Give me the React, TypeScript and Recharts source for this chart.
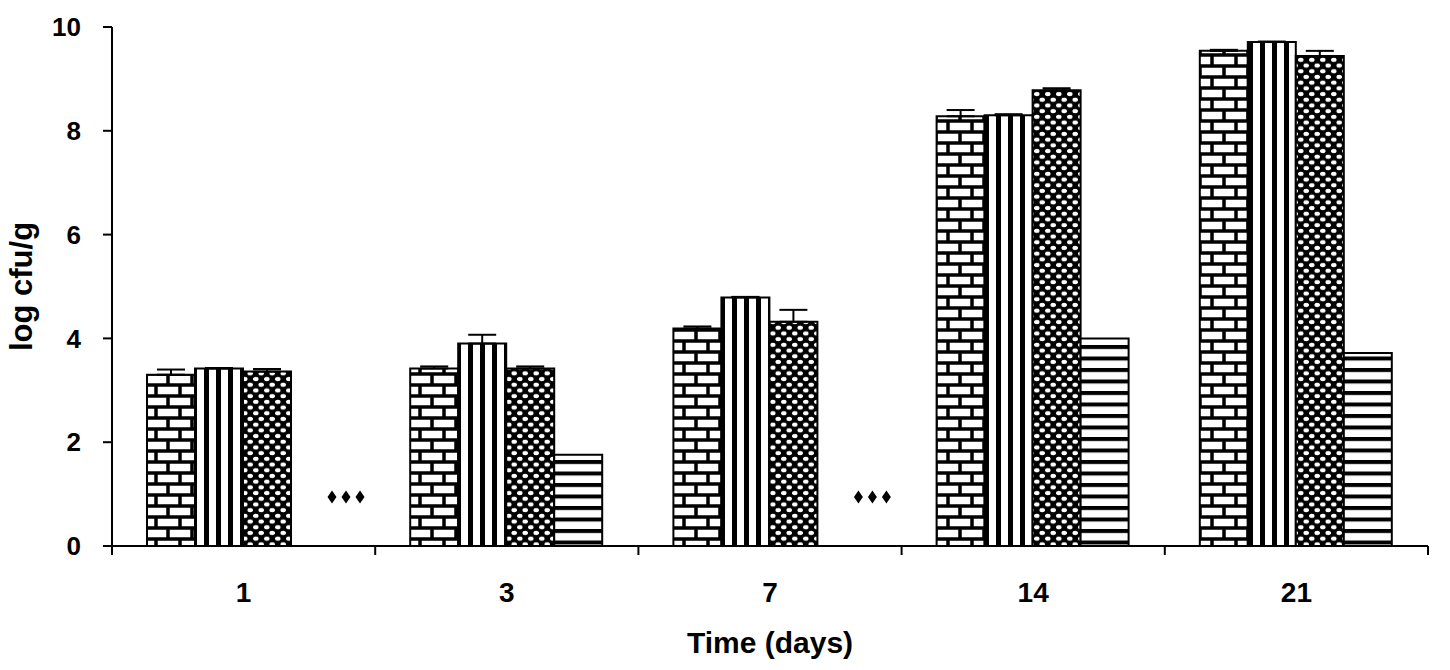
import { Bar, BarChart, XAxis, YAxis, ErrorBar, LabelList } from "recharts"

const days = ["1", "3", "7", "14", "21"]
const brickMean = [3.3, 3.42, 4.19, 8.28, 9.54]
const brickErr = [0.1, 0.04, 0.04, 0.12, 0.02]
const stripeMean = [3.42, 3.9, 4.79, 8.3, 9.71]
const stripeErr = [0.01, 0.17, 0.01, 0.02, 0.01]
const dotMean = [3.36, 3.42, 4.32, 8.78, 9.44]
const dotErr = [0.05, 0.04, 0.23, 0.04, 0.1]
const lineMean = [0, 1.76, 0, 4.0, 3.72]
const notDetected = [true, false, true, false, false]
const yTicks = [0, 2, 4, 6, 8, 10]

const data = days.map((day, i) => ({
  day,
  brick: brickMean[i],
  brickErr: [0, brickErr[i]],
  stripe: stripeMean[i],
  stripeErr: [0, stripeErr[i]],
  dot: dotMean[i],
  dotErr: [0, dotErr[i]],
  line: lineMean[i],
}))

const W = 1450
const H = 670
const margin = { top: 27, right: 22, left: 0, bottom: 0 }
const yAxisWidth = 112
const band = (W - margin.left - margin.right - yAxisWidth) / days.length
const font = "'Liberation Sans', Arial, sans-serif"

function DayTick(props: any) {
  const { x, y, payload, index } = props
  return (
    <g>
      <line x1={x - band / 2} x2={x - band / 2} y1={y} y2={y + 9} stroke="#000" strokeWidth={2} />
      {index === days.length - 1 && (
        <line x1={x + band / 2} x2={x + band / 2} y1={y} y2={y + 9} stroke="#000" strokeWidth={2} />
      )}
      <text x={x} y={y + 56} textAnchor="middle" fontFamily={font} fontWeight={700} fontSize={28} fill="#000">
        {payload.value}
      </text>
    </g>
  )
}

// "not detected" marks, placed next to the empty 4th slot (drawn from the 3rd bar of each group)
function NotDetected(props: any) {
  const { index } = props
  if (!notDetected[index]) return null
  const vb = props.viewBox || props
  const cx = vb.x + vb.width * 1.5 + 31
  const cy = vb.y + vb.height - 49
  return (
    <g>
      {[-14, 0, 14].map((d) => (
        <polygon
          key={d}
          points={`${cx + d},${cy - 6.5} ${cx + d + 4.5},${cy} ${cx + d},${cy + 6.5} ${cx + d - 4.5},${cy}`}
          fill="#000"
        />
      ))}
    </g>
  )
}

export default function App() {
  return (
    <div style={{ position: "absolute", left: 0, top: 0, background: "#fff" }}>
      <svg width={0} height={0} style={{ position: "absolute" }}>
        <defs>
          <pattern id="brick" patternUnits="userSpaceOnUse" width={24} height={22}>
            <rect width={24} height={22} fill="#000" />
            <rect x={1.75} y={1.75} width={20.5} height={7.5} fill="#fff" />
            <rect x={-10.25} y={12.75} width={20.5} height={7.5} fill="#fff" />
            <rect x={13.75} y={12.75} width={20.5} height={7.5} fill="#fff" />
          </pattern>
          <pattern id="vstripe" patternUnits="userSpaceOnUse" width={12} height={12}>
            <rect width={12} height={12} fill="#fff" />
            <rect x={0} width={5} height={12} fill="#000" />
          </pattern>
          <pattern id="dots" patternUnits="userSpaceOnUse" width={11} height={11.4}>
            <rect width={11} height={11.4} fill="#000" />
            <ellipse cx={2.75} cy={2.85} rx={2.8} ry={2.1} fill="#fff" />
            <ellipse cx={8.25} cy={8.55} rx={2.8} ry={2.1} fill="#fff" />
          </pattern>
          <pattern id="hstripe" patternUnits="userSpaceOnUse" width={12} height={11.5}>
            <rect width={12} height={11.5} fill="#fff" />
            <rect y={0} width={12} height={4} fill="#000" />
          </pattern>
        </defs>
      </svg>
      <BarChart width={W} height={H} data={data} margin={margin} barCategoryGap="13.3%" barGap={0}>
        <XAxis
          dataKey="day"
          height={H - 546}
          stroke="#000"
          strokeWidth={2}
          tickLine={false}
          tickSize={0}
          tickMargin={0}
          tick={<DayTick />}
          interval={0}
          label={{
            content: (p: any) => {
              const vb = p.viewBox
              return (
                <text
                  x={vb.x + vb.width / 2}
                  y={vb.y + 107}
                  textAnchor="middle"
                  fontFamily={font}
                  fontWeight={700}
                  fontSize={30}
                  fill="#000"
                >
                  Time (days)
                </text>
              )
            },
          }}
        />
        <YAxis
          width={yAxisWidth}
          domain={[0, 10]}
          ticks={yTicks}
          interval={0}
          stroke="#000"
          strokeWidth={2}
          tickSize={9}
          tickMargin={22}
          tick={{ fill: "#000", fontFamily: font, fontWeight: 700, fontSize: 26 }}
          label={{
            content: (p: any) => {
              const vb = p.viewBox
              const cx = vb.x + 21
              const cy = vb.y + vb.height / 2
              return (
                <text
                  x={cx}
                  y={cy}
                  transform={`rotate(-90 ${cx} ${cy})`}
                  textAnchor="middle"
                  dominantBaseline="central"
                  fontFamily={font}
                  fontWeight={700}
                  fontSize={31}
                  fill="#000"
                >
                  log cfu/g
                </text>
              )
            },
          }}
        />
        <Bar dataKey="brick" fill="url(#brick)" stroke="#000" strokeWidth={2} isAnimationActive={false}>
          <ErrorBar dataKey="brickErr" direction="y" width={14} stroke="#000" strokeWidth={2} />
        </Bar>
        <Bar dataKey="stripe" fill="url(#vstripe)" stroke="#000" strokeWidth={2} isAnimationActive={false}>
          <ErrorBar dataKey="stripeErr" direction="y" width={14} stroke="#000" strokeWidth={2} />
        </Bar>
        <Bar dataKey="dot" fill="url(#dots)" stroke="#000" strokeWidth={2} isAnimationActive={false}>
          <ErrorBar dataKey="dotErr" direction="y" width={14} stroke="#000" strokeWidth={2} />
          <LabelList dataKey="dot" content={<NotDetected />} />
        </Bar>
        <Bar dataKey="line" fill="url(#hstripe)" stroke="#000" strokeWidth={2} isAnimationActive={false} />
      </BarChart>
    </div>
  )
}
